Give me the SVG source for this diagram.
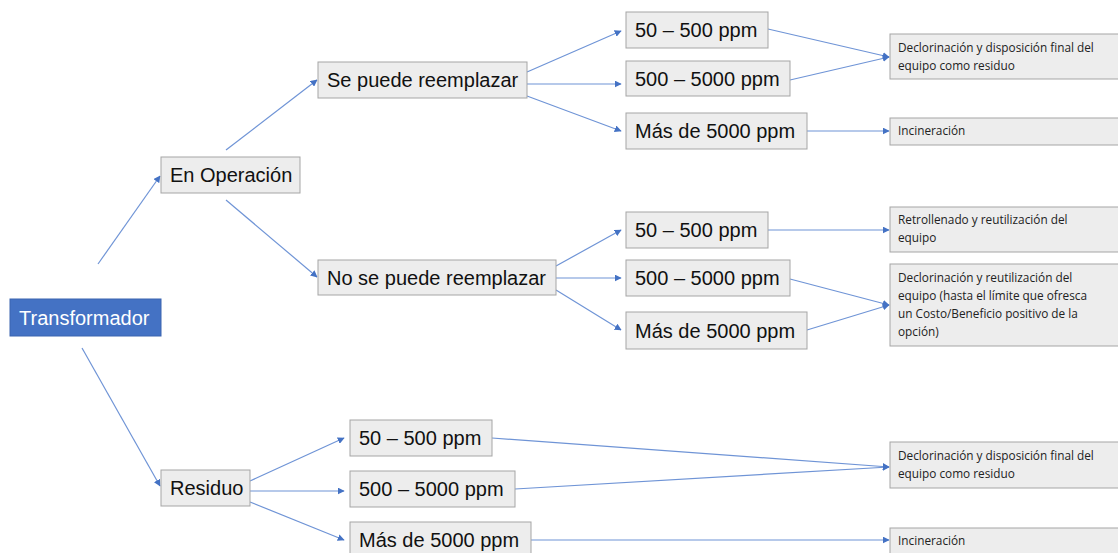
<svg xmlns="http://www.w3.org/2000/svg" width="1118" height="553" viewBox="0 0 1118 553">
<style>
.box{fill:#EDEDED;stroke:#A5A5A5;stroke-width:1}
.t{font-family:"Liberation Sans",Arial,sans-serif;font-size:20px;fill:#111}
.s{font-family:"Open Sans","Liberation Sans",Arial,sans-serif;font-size:11.8px;fill:#222}
.c{stroke:#6F94D6;stroke-width:1.2;fill:none;marker-end:url(#a)}
</style>
<defs>
<marker id="a" viewBox="0 0 10 10" refX="9" refY="5" markerWidth="7" markerHeight="7" markerUnits="userSpaceOnUse" orient="auto">
<path d="M0,0 L10,5 L0,10 z" fill="#4472C4"/>
</marker>
</defs>
<rect width="1118" height="553" fill="#fff"/>
<g id="connectors">
<line class="c" x1="98" y1="264" x2="160" y2="176"/>
<line class="c" x1="82" y1="348" x2="160" y2="486"/>
<line class="c" x1="226" y1="150" x2="317" y2="80"/>
<line class="c" x1="226" y1="200" x2="317" y2="277"/>
<line class="c" x1="527" y1="72" x2="621" y2="31"/>
<line class="c" x1="527" y1="84" x2="621" y2="84"/>
<line class="c" x1="527" y1="96" x2="621" y2="131"/>
<line class="c" x1="768" y1="29" x2="889" y2="57"/>
<line class="c" x1="790" y1="80" x2="889" y2="57"/>
<line class="c" x1="807" y1="131" x2="889" y2="131"/>
<line class="c" x1="556" y1="266" x2="621" y2="230"/>
<line class="c" x1="556" y1="278" x2="621" y2="278"/>
<line class="c" x1="556" y1="290" x2="621" y2="330"/>
<line class="c" x1="768" y1="230" x2="889" y2="230"/>
<line class="c" x1="790" y1="279" x2="889" y2="305"/>
<line class="c" x1="807" y1="330" x2="889" y2="305"/>
<line class="c" x1="250" y1="481" x2="344" y2="438"/>
<line class="c" x1="250" y1="491" x2="344" y2="491"/>
<line class="c" x1="250" y1="502" x2="344" y2="540"/>
<line class="c" x1="492" y1="438" x2="889" y2="467"/>
<line class="c" x1="515" y1="489" x2="889" y2="467"/>
<line class="c" x1="531" y1="540" x2="889" y2="540"/>
</g>
<g id="transformador"><rect x="10" y="299" width="151" height="37" fill="#4472C4" stroke="#3A64B0"/><text x="19" y="325" class="t" style="fill:#fff">Transformador</text></g>
<g id="en-operacion"><rect class="box" x="161" y="157" width="139" height="36"/><text class="t" x="170" y="182">En Operación</text></g>
<g id="residuo"><rect class="box" x="161" y="470" width="89" height="36"/><text class="t" x="170" y="495">Residuo</text></g>
<g id="se-puede"><rect class="box" x="318" y="62" width="209" height="36"/><text class="t" x="327" y="87">Se puede reemplazar</text></g>
<g id="no-se-puede"><rect class="box" x="318" y="260" width="238" height="35"/><text class="t" x="327" y="285">No se puede reemplazar</text></g>
<g id="a1"><rect class="box" x="626" y="12" width="142" height="36"/><text class="t" x="635" y="37">50 – 500 ppm</text></g>
<g id="a2"><rect class="box" x="626" y="61" width="164" height="35"/><text class="t" x="635" y="86">500 – 5000 ppm</text></g>
<g id="a3"><rect class="box" x="626" y="113" width="181" height="36"/><text class="t" x="635" y="138">Más de 5000 ppm</text></g>
<g id="b1"><rect class="box" x="626" y="212" width="142" height="36"/><text class="t" x="635" y="237">50 – 500 ppm</text></g>
<g id="b2"><rect class="box" x="626" y="260" width="164" height="36"/><text class="t" x="635" y="285">500 – 5000 ppm</text></g>
<g id="b3"><rect class="box" x="626" y="312" width="181" height="37"/><text class="t" x="635" y="338">Más de 5000 ppm</text></g>
<g id="c1"><rect class="box" x="350" y="420" width="142" height="36"/><text class="t" x="359" y="445">50 – 500 ppm</text></g>
<g id="c2"><rect class="box" x="350" y="471" width="165" height="36"/><text class="t" x="359" y="496">500 – 5000 ppm</text></g>
<g id="c3"><rect class="box" x="350" y="522" width="181" height="36"/><text class="t" x="359" y="547">Más de 5000 ppm</text></g>
<g id="r1"><rect class="box" x="890" y="34" width="232" height="45"/><text class="s" x="898" y="52">Declorinación y disposición final del</text><text class="s" x="898" y="70">equipo como residuo</text></g>
<g id="r2"><rect class="box" x="890" y="118" width="232" height="27"/><text class="s" x="898" y="135">Incineración</text></g>
<g id="r3"><rect class="box" x="890" y="207" width="232" height="45"/><text class="s" x="898" y="224">Retrollenado y reutilización del</text><text class="s" x="898" y="242">equipo</text></g>
<g id="r4"><rect class="box" x="890" y="264" width="232" height="82"/><text class="s" x="898" y="282">Declorinación y reutilización del</text><text class="s" x="898" y="300">equipo (hasta el límite que ofresca</text><text class="s" x="898" y="318">un Costo/Beneficio positivo de la</text><text class="s" x="898" y="336">opción)</text></g>
<g id="r5"><rect class="box" x="890" y="442" width="232" height="46"/><text class="s" x="898" y="460">Declorinación y disposición final del</text><text class="s" x="898" y="478">equipo como residuo</text></g>
<g id="r6"><rect class="box" x="890" y="528" width="232" height="30"/><text class="s" x="898" y="545">Incineración</text></g>
</svg>
